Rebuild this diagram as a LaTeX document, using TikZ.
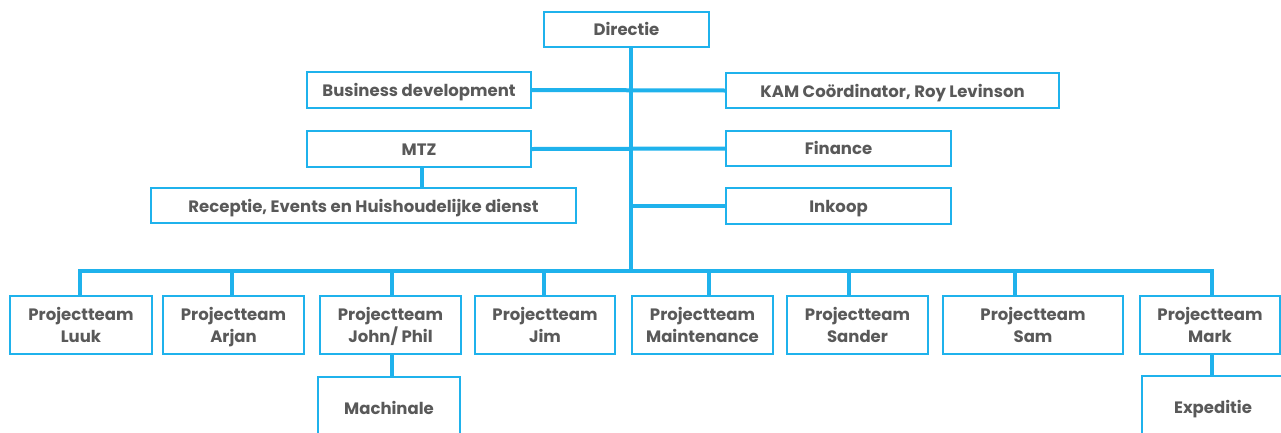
\documentclass[tikz,border=0pt]{standalone}
\usepackage{fontspec}
\setmainfont{Poppins}
\definecolor{lineblue}{HTML}{1FB2EC}
\definecolor{txtgray}{HTML}{595959}
\newcommand{\ptm}[1]{\rule{0pt}{17.5pt}Projectteam\\#1\vphantom{Jj}}
\tikzset{
  box/.style={draw=lineblue, line width=1.8pt, fill=white, inner sep=0pt, outer sep=0pt,
    text=txtgray, font=\fontsize{16.5}{22}\selectfont\bfseries, align=center},
  one/.style={execute at begin node={\rule{0pt}{17.5pt}}},
  conn/.style={draw=lineblue, line width=4pt},
}
\begin{document}
\begin{tikzpicture}[x=1pt,y=-1pt]
\useasboundingbox (0,0) rectangle (1281,432);
\clip (0,0) rectangle (1281,432);
% top area
\node[box, one, minimum width=165, minimum height=35] (dir) at (626.5,29.5) {Directie\vphantom{gy}};
\node[box, one, minimum width=224, minimum height=36] (bd) at (419,90) {Business development};
\node[box, one, minimum width=333, minimum height=35] (kam) at (892.5,90.5) {KAM Coördinator, Roy Levinson};
\node[box, one, minimum width=224, minimum height=36] (mtz) at (419,149) {MTZ\vphantom{gy}};
\node[box, one, minimum width=425, minimum height=35] (rec) at (363.5,205.5) {Receptie, Events en Huishoudelijke dienst};
\node[box, one, minimum width=225, minimum height=35] (fin) at (838.5,148.5) {Finance\vphantom{gy}};
\node[box, one, minimum width=225, minimum height=36] (ink) at (838.5,206) {Inkoop};
% bottom row
\node[box, minimum width=142, minimum height=58] (luuk) at (81,325) {\ptm{Luuk}};
\node[box, minimum width=141, minimum height=58] (arjan) at (233.5,325) {\ptm{Arjan}};
\node[box, minimum width=141, minimum height=58] (john) at (390.5,325) {\ptm{John/ Phil}};
\node[box, minimum width=140, minimum height=58] (jim) at (545,325) {\ptm{Jim}};
\node[box, minimum width=141, minimum height=58] (maint) at (702.5,325) {\ptm{Maintenance}};
\node[box, minimum width=141, minimum height=58] (sander) at (857.5,325) {\ptm{Sander}};
\node[box, minimum width=180, minimum height=58] (sam) at (1033,325) {\ptm{Sam}};
\node[box, minimum width=140, minimum height=58] (mark) at (1210,325) {\ptm{Mark}};
\node[box, one, minimum width=142, minimum height=62] (mach) at (389,408) {Machinale\vphantom{gy}};
\node[box, one, minimum width=142, minimum height=62] (exp) at (1213,407) {Expeditie};
% junction coordinates
\coordinate (top) at (630.5,47);
\coordinate (bar) at (630.5,271);
\coordinate (mx) at (422,0);
\coordinate (dL) at (80,271);
\coordinate (dA) at (232,271);
\coordinate (dJ) at (392,271);
\coordinate (dI) at (544,271);
\coordinate (dM) at (709,271);
\coordinate (dS) at (849,271);
\coordinate (dT) at (1015,271);
\coordinate (dK) at (1212,271);
% connectors
\draw[conn] (dir.south -| top) -- (bar);
\draw[conn] (bd.east) -- (kam.west);
\draw[conn] (mtz.east) -- (fin.west);
\draw[conn] (ink.west) -- (ink.west -| top);
\draw[conn, line width=3.4pt] (mtz.south -| mx) -- (rec.north -| mx);
\draw[conn, line cap=rect] (dL) -- (dK);
\draw[conn] (luuk.north -| dL) -- (dL);
\draw[conn] (arjan.north -| dA) -- (dA);
\draw[conn] (john.north -| dJ) -- (dJ);
\draw[conn] (jim.north -| dI) -- (dI);
\draw[conn] (maint.north -| dM) -- (dM);
\draw[conn] (sander.north -| dS) -- (dS);
\draw[conn] (sam.north -| dT) -- (dT);
\draw[conn] (mark.north -| dK) -- (dK);
\draw[conn] (john.south -| dJ) -- (mach.north -| dJ);
\draw[conn] (mark.south -| dK) -- (exp.north -| dK);
\end{tikzpicture}
\end{document}
